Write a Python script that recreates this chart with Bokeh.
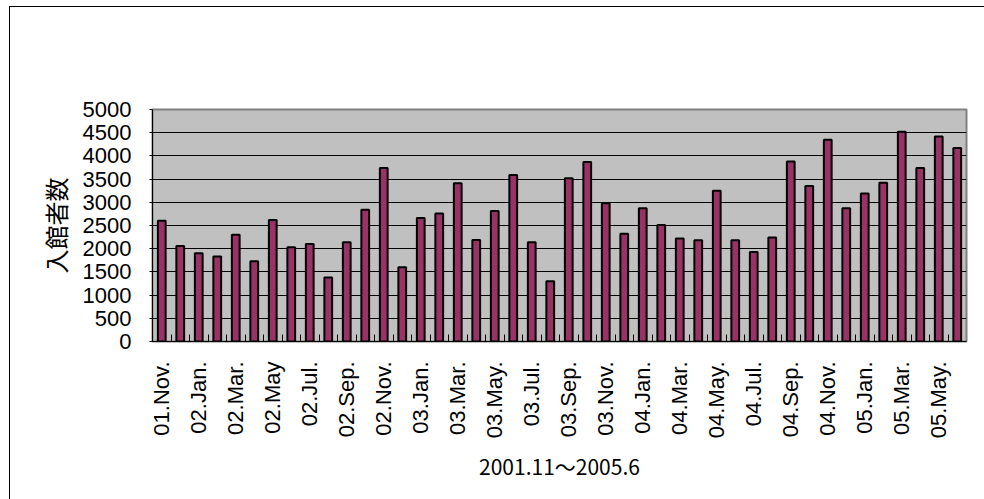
import math
from bokeh.plotting import figure
from bokeh.models import Range1d, FixedTicker, LinearAxis, Grid
from bokeh.embed import file_html
from bokeh.resources import INLINE

# ---- data ----
months = [
    "01.Nov", "01.Dec", "02.Jan", "02.Feb", "02.Mar", "02.Apr", "02.May", "02.Jun",
    "02.Jul", "02.Aug", "02.Sep", "02.Oct", "02.Nov", "02.Dec", "03.Jan", "03.Feb",
    "03.Mar", "03.Apr", "03.May", "03.Jun", "03.Jul", "03.Aug", "03.Sep", "03.Oct",
    "03.Nov", "03.Dec", "04.Jan", "04.Feb", "04.Mar", "04.Apr", "04.May", "04.Jun",
    "04.Jul", "04.Aug", "04.Sep", "04.Oct", "04.Nov", "04.Dec", "05.Jan", "05.Feb",
    "05.Mar", "05.Apr", "05.May", "05.Jun",
]
visitors = [
    2600, 2060, 1900, 1830, 2300, 1730, 2620, 2030, 2100, 1380, 2140, 2840,
    3740, 1600, 2660, 2760, 3410, 2190, 2810, 3590, 2140, 1300, 3520, 3870,
    2980, 2320, 2870, 2510, 2220, 2180, 3250, 2180, 1930, 2240, 3880, 3350,
    4350, 2870, 3190, 3420, 4520, 3740, 4420, 4170,
]
tick_labels = [
    "01.Nov.", "02.Jan.", "02.Mar.", "02.May", "02.Jul.", "02.Sep.", "02.Nov.",
    "03.Jan.", "03.Mar.", "03.May.", "03.Jul.", "03.Sep.", "03.Nov.", "04.Jan.",
    "04.Mar.", "04.May.", "04.Jul.", "04.Sep.", "04.Nov.", "05.Jan.", "05.Mar.",
    "05.May.",
]
y_ticks = [0, 500, 1000, 1500, 2000, 2500, 3000, 3500, 4000, 4500, 5000]
x_title = "2001.11～2005.6"
y_title = "入館者数"

n = len(visitors)
xs = [i + 0.5 for i in range(n)]
label_pos = [xs[2 * k] for k in range(len(tick_labels))]

p = figure(
    width=975, height=493,
    x_range=Range1d(0, n), y_range=Range1d(0, 5000),
    output_backend="svg", toolbar_location=None,
    x_axis_type=None, y_axis_type=None,
    min_border_left=142, min_border_right=19,
    min_border_top=102, min_border_bottom=159,
)
p.margin = (6, 0, 0, 9)
p.styles = {"border-left": "1px solid #000000", "border-top": "1px solid #000000"}

p.background_fill_color = "#C0C0C0"
p.border_fill_color = "white"
p.outline_line_color = "#808080"
p.outline_line_width = 2

font = "Liberation Sans"

xaxis = LinearAxis(
    ticker=FixedTicker(ticks=label_pos, minor_ticks=list(range(1, n))),
    major_label_overrides={pos: lab for pos, lab in zip(label_pos, tick_labels)},
)
xaxis.major_label_orientation = math.pi / 2
xaxis.major_tick_in = 0
xaxis.major_tick_out = 0
xaxis.minor_tick_in = 7
xaxis.minor_tick_out = 0
xaxis.minor_tick_line_color = "#000000"
xaxis.axis_line_color = "#000000"
xaxis.axis_line_width = 1
xaxis.major_label_standoff = 20
xaxis.major_label_text_font = font
xaxis.major_label_text_font_size = "22px"
xaxis.major_label_text_color = "#000000"
xaxis.axis_label = x_title
xaxis.axis_label_text_font = "Noto Sans CJK JP"
xaxis.axis_label_text_font_size = "21px"
xaxis.axis_label_text_font_style = "normal"
xaxis.axis_label_text_color = "#000000"
xaxis.axis_label_standoff = 10
p.add_layout(xaxis, "below")

yaxis = LinearAxis(ticker=FixedTicker(ticks=y_ticks))
yaxis.minor_tick_line_color = None
yaxis.major_tick_in = 0
yaxis.major_tick_out = 3
yaxis.major_tick_line_color = "#000000"
yaxis.axis_line_color = "#000000"
yaxis.major_label_standoff = 18
yaxis.major_label_text_font = font
yaxis.major_label_text_font_size = "22px"
yaxis.major_label_text_color = "#000000"
yaxis.axis_label = y_title
yaxis.axis_label_text_font = "Noto Sans CJK JP"
yaxis.axis_label_text_font_size = "24px"
yaxis.axis_label_text_font_style = "normal"
yaxis.axis_label_text_color = "#000000"
yaxis.axis_label_standoff = 7
p.add_layout(yaxis, "left")

p.ygrid.grid_line_color = None
ygrid = Grid(dimension=1, ticker=yaxis.ticker, grid_line_color="#000000", grid_line_width=1)
p.add_layout(ygrid)

p.vbar(x=xs, top=visitors, width=0.42, bottom=0,
       fill_color="#993366", line_color="#000000", line_width=2)

open("out.html", "w").write(file_html(p, INLINE))
